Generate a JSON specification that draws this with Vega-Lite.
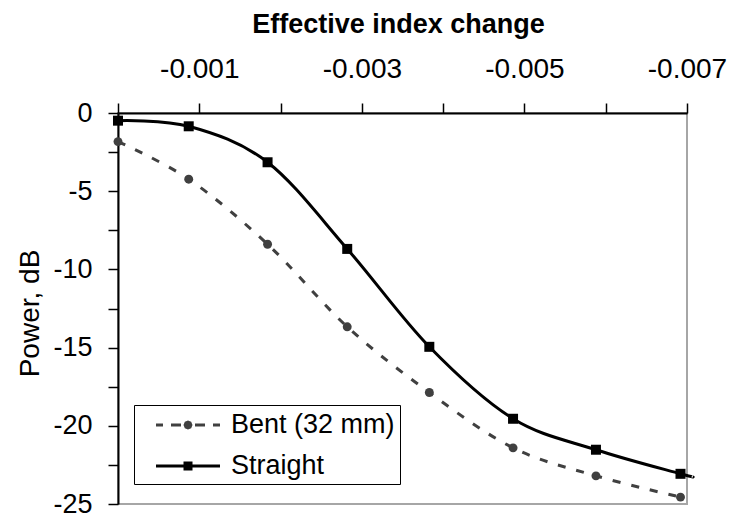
{
  "$schema": "https://vega.github.io/schema/vega-lite/v6.json",
  "width": 569,
  "height": 391,
  "autosize": {"type": "none"},
  "padding": {"left": 118, "top": 113, "right": 45, "bottom": 18},
  "background": "white",
  "config": {
    "view": {"stroke": "#a6a6a6", "strokeWidth": 2},
    "axis": {"grid": false, "domainColor": "black", "domainWidth": 2, "tickColor": "black", "tickWidth": 1.5, "labelColor": "black", "titleColor": "black", "labelFont": "Liberation Sans", "titleFont": "Liberation Sans"}
  },
  "data": {"values": [
    {"series": "Bent (32 mm)", "change": 0, "power": -1.83, "sample": true},
    {"series": "Bent (32 mm)", "change": -0.00087, "power": -4.23, "sample": true},
    {"series": "Bent (32 mm)", "change": -0.00184, "power": -8.39, "sample": true},
    {"series": "Bent (32 mm)", "change": -0.00282, "power": -13.67, "sample": true},
    {"series": "Bent (32 mm)", "change": -0.00383, "power": -17.87, "sample": true},
    {"series": "Bent (32 mm)", "change": -0.00486, "power": -21.41, "sample": true},
    {"series": "Bent (32 mm)", "change": -0.00588, "power": -23.2, "sample": true},
    {"series": "Bent (32 mm)", "change": -0.00692, "power": -24.56, "sample": true},
    {"series": "Straight", "change": 0, "power": -0.49, "sample": true},
    {"series": "Straight", "change": -0.00087, "power": -0.85, "sample": true},
    {"series": "Straight", "change": -0.00184, "power": -3.15, "sample": true},
    {"series": "Straight", "change": -0.00282, "power": -8.69, "sample": true},
    {"series": "Straight", "change": -0.00383, "power": -14.95, "sample": true},
    {"series": "Straight", "change": -0.00486, "power": -19.55, "sample": true},
    {"series": "Straight", "change": -0.00588, "power": -21.53, "sample": true},
    {"series": "Straight", "change": -0.00692, "power": -23.07, "sample": true},
    {"series": "Straight", "change": -0.00707, "power": -23.26, "sample": false}
  ]},
  "encoding": {
    "x": {
      "field": "change", "type": "quantitative",
      "scale": {"domain": [-0.007, 0], "reverse": true, "nice": false, "zero": false},
      "axis": {
        "orient": "top",
        "title": "Effective index change",
        "values": [0, -0.001, -0.002, -0.003, -0.004, -0.005, -0.006, -0.007],
        "labelExpr": "abs(round(datum.value*10000)) % 20 == 10 ? '-0.00' + abs(round(datum.value*1000)) : ''",
        "tickSize": 10,
        "labelPadding": 26,
        "labelBaseline": "alphabetic",
        "labelFontSize": 28,
        "labelOverlap": false,
        "labelFlush": false,
        "titleFontSize": 27,
        "titleFontWeight": "bold",
        "titleX": 280,
        "titleY": -81,
        "titleBaseline": "alphabetic",
        "titleAlign": "center",
        "encode": {"ticks": {"update": {"y2": {"signal": "(abs(round(datum.value*10000)) % 20 == 10 || datum.value == 0) ? -10 : -6"}}}}
      }
    },
    "y": {
      "field": "power", "type": "quantitative",
      "scale": {"domain": [-25, 0], "nice": false, "zero": false},
      "axis": {
        "title": "Power, dB",
        "values": [0, -2.5, -5, -7.5, -10, -12.5, -15, -17.5, -20, -22.5, -25],
        "labelExpr": "datum.value % 5 == 0 ? (datum.value == 0 ? '0' : '-' + abs(datum.value)) : ''",
        "tickSize": 10,
        "labelPadding": 16,
        "labelFontSize": 27,
        "labelOverlap": false,
        "labelFlush": false,
        "titleFontSize": 28,
        "titleFontWeight": "normal",
        "titleAngle": -90,
        "titleX": -80,
        "titleY": 200,
        "titleBaseline": "alphabetic",
        "titleAlign": "center",
        "encode": {"ticks": {"update": {"x2": {"signal": "datum.value % 5 == 0 ? -10 : -5"}}}}
      }
    }
  },
  "layer": [
    {
      "transform": [{"filter": "datum.series == 'Bent (32 mm)'"}],
      "mark": {"type": "line", "interpolate": "cardinal", "color": "#404040", "strokeWidth": 3, "strokeDash": [8, 11], "clip": false},
      "encoding": {}
    },
    {
      "transform": [{"filter": "datum.series == 'Straight'"}],
      "mark": {"type": "line", "interpolate": "cardinal", "color": "black", "strokeWidth": 3, "clip": false},
      "encoding": {}
    },
    {
      "transform": [{"filter": "datum.series == 'Bent (32 mm)' && datum.sample"}],
      "mark": {"type": "point", "shape": "circle", "filled": true, "size": 80, "color": "#404040", "opacity": 1}
    },
    {
      "transform": [{"filter": "datum.series == 'Straight' && datum.sample"}],
      "mark": {"type": "point", "shape": "square", "filled": true, "size": 100, "color": "black", "opacity": 1}
    },
    {
      "transform": [{"filter": "datum.sample"}],
      "mark": {"type": "point", "filled": true, "opacity": 0},
      "encoding": {
        "color": {
          "field": "series", "type": "nominal",
          "scale": {"domain": ["Bent (32 mm)", "Straight"], "range": ["#404040", "#000000"]},
          "legend": {"title": null, "orient": "none", "legendX": 16, "legendY": 292, "direction": "vertical", "strokeColor": "black", "fillColor": "white", "padding": 5, "symbolSize": 900, "symbolStrokeWidth": 0, "symbolOffset": 34, "labelOffset": 28, "labelFontSize": 27, "labelFont": "Liberation Sans", "labelColor": "black", "rowPadding": 13, "symbolOpacity": 1, "labelLimit": 400, "labelExpr": "datum.label + '\u00a0\u00a0'"}
        },
        "shape": {
          "field": "series", "type": "nominal",
          "scale": {"domain": ["Bent (32 mm)", "Straight"], "range": [
            "M-2.133,-0.1H-1.667V0.1H-2.133Z M-1.133,-0.1H-0.467V0.1H-1.133Z M0.467,-0.1H1.133V0.1H0.467Z M1.667,-0.1H2.133V0.1H1.667Z M0.3,0L0.212,0.212L0,0.3L-0.212,0.212L-0.3,0L-0.212,-0.212L0,-0.3L0.212,-0.212Z",
            "M-2.133,-0.1H2.133V0.1H-2.133Z M-0.3,-0.3H0.3V0.3H-0.3Z"
          ]},
          "legend": {"title": null, "orient": "none", "legendX": 16, "legendY": 292, "direction": "vertical", "strokeColor": "black", "fillColor": "white", "padding": 5, "symbolSize": 900, "symbolStrokeWidth": 0, "symbolOffset": 34, "labelOffset": 28, "labelFontSize": 27, "labelFont": "Liberation Sans", "labelColor": "black", "rowPadding": 13, "symbolOpacity": 1, "labelLimit": 400, "labelExpr": "datum.label + '\u00a0\u00a0'"}
        }
      }
    }
  ]
}
